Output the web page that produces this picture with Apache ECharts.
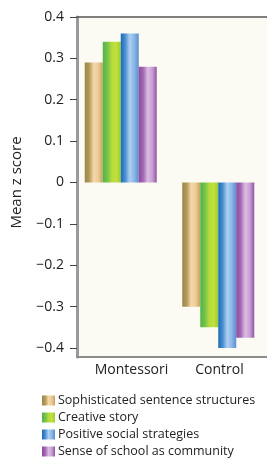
<!DOCTYPE html>
<html>
<head>
<meta charset="utf-8">
<script src="https://cdn.jsdelivr.net/npm/echarts@6/dist/echarts.min.js"></script>
<style>
html,body{margin:0;padding:0;background:#fff;}
#main{width:267px;height:464px;}
</style>
</head>
<body>
<div id="main"></div>
<script>
var groups = ['Montessori', 'Control'];
var seriesNames = ['Sophisticated sentence structures', 'Creative story', 'Positive social strategies', 'Sense of school as community'];
var sentenceVals = [0.29, -0.30];
var storyVals = [0.34, -0.35];
var socialVals = [0.36, -0.40];
var communityVals = [0.28, -0.375];
var yTicks = [-0.4, 0.4, 0.1];

var myChart = echarts.init(document.getElementById('main'));
var font = '"Open Sans", "Noto Sans", sans-serif';

function grad(stops) {
    return new echarts.graphic.LinearGradient(0, 0, 1, 0, stops.map(function (c, i) {
        return {offset: i / (stops.length - 1), color: c};
    }));
}
var colors = [
    grad(['#9c8546', '#b39a5a', '#f4d8aa', '#eccb94', '#c4a263']),
    grad(['#52b448', '#72c24a', '#b4da3e', '#c4e03a', '#98cc34']),
    grad(['#1a6cb6', '#4a8ed0', '#aed0f2', '#8cb6e6', '#5a8ed0']),
    grad(['#8c4c9e', '#a468b2', '#dcbce4', '#c8a0d4', '#9454a4'])
];
var dataSets = [sentenceVals, storyVals, socialVals, communityVals];

var series = [];
for (var i = 0; i < seriesNames.length; i++) {
    series.push({
        name: seriesNames[i],
        type: 'bar',
        xAxisIndex: 2,
        yAxisIndex: 1,
        barWidth: 18,
        barGap: 0,
        itemStyle: {color: colors[i]},
        data: dataSets[i]
    });
}

var option = {
    animation: false,
    textStyle: {fontFamily: font},
    legend: {
        orient: 'vertical',
        left: 42,
        top: 394,
        icon: 'rect',
        itemWidth: 13,
        itemHeight: 10,
        itemGap: 4,
        padding: 0,
        textStyle: {fontSize: 12.5, color: '#222', fontFamily: font, padding: [0, 0, 0, -2]},
        data: seriesNames
    },
    grid: [
        {left: 77, right: 0, top: 17, bottom: 107, show: true, backgroundColor: '#fcfbf3', borderWidth: 0},
        {left: 72, right: -5, top: 17, bottom: 116}
    ],
    xAxis: [
        {
            type: 'category', gridIndex: 0, data: groups,
            axisLine: {lineStyle: {color: '#8c8c8c', width: 2}},
            axisTick: {show: false},
            axisLabel: {
                interval: 0,
                color: '#222', fontSize: 14, margin: 6,
                formatter: function (v) { return v === 'Montessori' ? '{m|' + v + '}' : v; },
                rich: {m: {fontSize: 14, color: '#222', padding: [0, 0, 0, 14]}}
            }
        },
        {
            type: 'category', gridIndex: 0, position: 'top', data: groups,
            axisLine: {lineStyle: {color: '#555', width: 1.5}},
            axisTick: {show: false}, axisLabel: {show: false}
        },
        {type: 'category', gridIndex: 1, data: groups, show: false}
    ],
    yAxis: [
        {
            type: 'value', gridIndex: 0, min: 0, max: 1,
            axisLine: {show: true, lineStyle: {color: '#9a9a9a', width: 3}},
            axisTick: {show: false}, axisLabel: {show: false}, splitLine: {show: false}
        },
        {
            type: 'value', gridIndex: 1, min: yTicks[0], max: yTicks[1], interval: yTicks[2],
            offset: -5,
            name: 'Mean z score', nameLocation: 'middle', nameGap: 53,
            nameTextStyle: {fontSize: 15, color: '#222'},
            axisLine: {show: false},
            axisTick: {show: true, length: 7, lineStyle: {color: '#444'}},
            axisLabel: {
                color: '#222', fontSize: 14, margin: 13,
                formatter: function (v) {
                    if (Math.abs(v) < 1e-9) return '0';
                    return (v < 0 ? '\u2212' : '') + Math.abs(v).toFixed(1);
                }
            },
            splitLine: {show: false}
        }
    ],
    series: series
};
myChart.setOption(option);
</script>
</body>
</html>
